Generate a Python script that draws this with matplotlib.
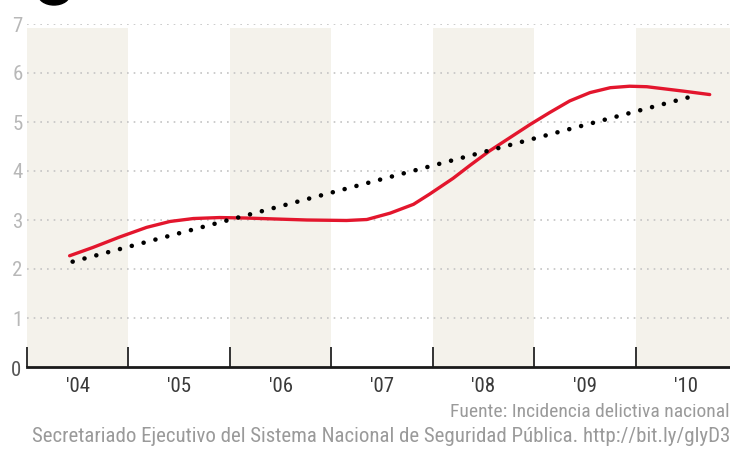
import numpy as np
import matplotlib
matplotlib.use("Agg")
import matplotlib.pyplot as plt
from matplotlib.patches import Ellipse

# ── Données ──────────────────────────────────────────────────
years = ["'04", "'05", "'06", "'07", "'08", "'09", "'10"]
y_ticks = [0, 1, 2, 3, 4, 5, 6, 7]

# courbe rouge (position en années depuis '04, valeur)
curve_x = [-0.08, 0.15, 0.41, 0.68, 0.91, 1.14, 1.40, 1.66, 1.96, 2.26,
           2.65, 2.85, 3.08, 3.31, 3.47, 3.70, 3.87, 4.06, 4.26, 4.46,
           4.65, 4.85, 5.05, 5.25, 5.44, 5.61, 5.77, 5.97, 6.23]
curve_y = [2.27, 2.44, 2.65, 2.85, 2.97, 3.03, 3.05, 3.04, 3.02, 3.00,
           2.99, 3.01, 3.14, 3.32, 3.53, 3.85, 4.12, 4.41, 4.68, 4.95,
           5.19, 5.43, 5.60, 5.70, 5.73, 5.72, 5.68, 5.63, 5.56]

# tendance linéaire (pointillés noirs)
trend_x = [-0.05, 6.07]
trend_y = [2.15, 5.53]

fuente = "Fuente: Incidencia delictiva nacional"
secretariado = ("Secretariado Ejecutivo del Sistema Nacional de "
                "Seguridad Pública. http://bit.ly/glyD3")

FONT = ["Roboto Condensed", "DejaVu Sans"]
plt.rcParams["font.family"] = FONT

# ── Figure ───────────────────────────────────────────────────
fig = plt.figure(figsize=(7.3, 4.58), dpi=100)
ax = fig.add_axes([27 / 730, 1 - 367 / 458, 1 - 27 / 730, (367 - 24) / 458])
ax.set_xlim(-0.5, 6.43)
ax.set_ylim(0, 7)

# bandes alternées
for i in range(0, len(years), 2):
    ax.axvspan(i - 0.5, i + 0.5, ymax=6.92 / 7, color="#f4f2eb", lw=0, zorder=0)

# grille pointillée
for v in y_ticks[1:]:
    ax.axhline(v, color="#c4c4c4", lw=1.2, ls=(0, (1, 3)), zorder=1)

ax.plot(curve_x, curve_y, color="#e3162d", lw=2.4, zorder=3,
        solid_capstyle="round", solid_joinstyle="round")
ax.plot(trend_x, trend_y, color="black", lw=3.3, zorder=4,
        ls=(0, (0.01, 2.66)), dash_capstyle="round")

# axes
for s in ["top", "right", "left"]:
    ax.spines[s].set_visible(False)
ax.spines["bottom"].set_color("#1a1a1a")
ax.spines["bottom"].set_linewidth(2)

ax.set_xticks(range(len(years)))
ax.set_xticklabels(years, fontsize=15, color="#3a3a3a")
ax.set_xticks(np.arange(-0.5, len(years) - 0.5, 1), minor=True)
ax.tick_params(axis="x", which="major", length=0, pad=7)
ax.tick_params(axis="x", which="minor", direction="in", length=14.5,
               width=1.4, color="#333333")

ax.set_yticks(y_ticks)
ax.set_yticklabels([""] + [str(v) for v in y_ticks[1:]], fontsize=15,
                   color="#b8b8b8")
ax.tick_params(axis="y", length=0, pad=3)
ax.text(-0.56, -0.08, "0", fontsize=15, color="#555555", ha="right",
        va="center")

# sources
fig.text(1.0, 1 - 412 / 458, fuente, fontsize=14, color="#9a9a9a",
         ha="right", va="center")
fig.text(1.0, 1 - 437 / 458, secretariado, fontsize=15, color="#9a9a9a",
         ha="right", va="center")

# logo coupé en haut
fig.patches.append(Ellipse((54 / 730, 1 + 6 / 458), 32 / 730, 22 / 458,
                           transform=fig.transFigure, color="black"))

fig.savefig("out.png", dpi=100)
